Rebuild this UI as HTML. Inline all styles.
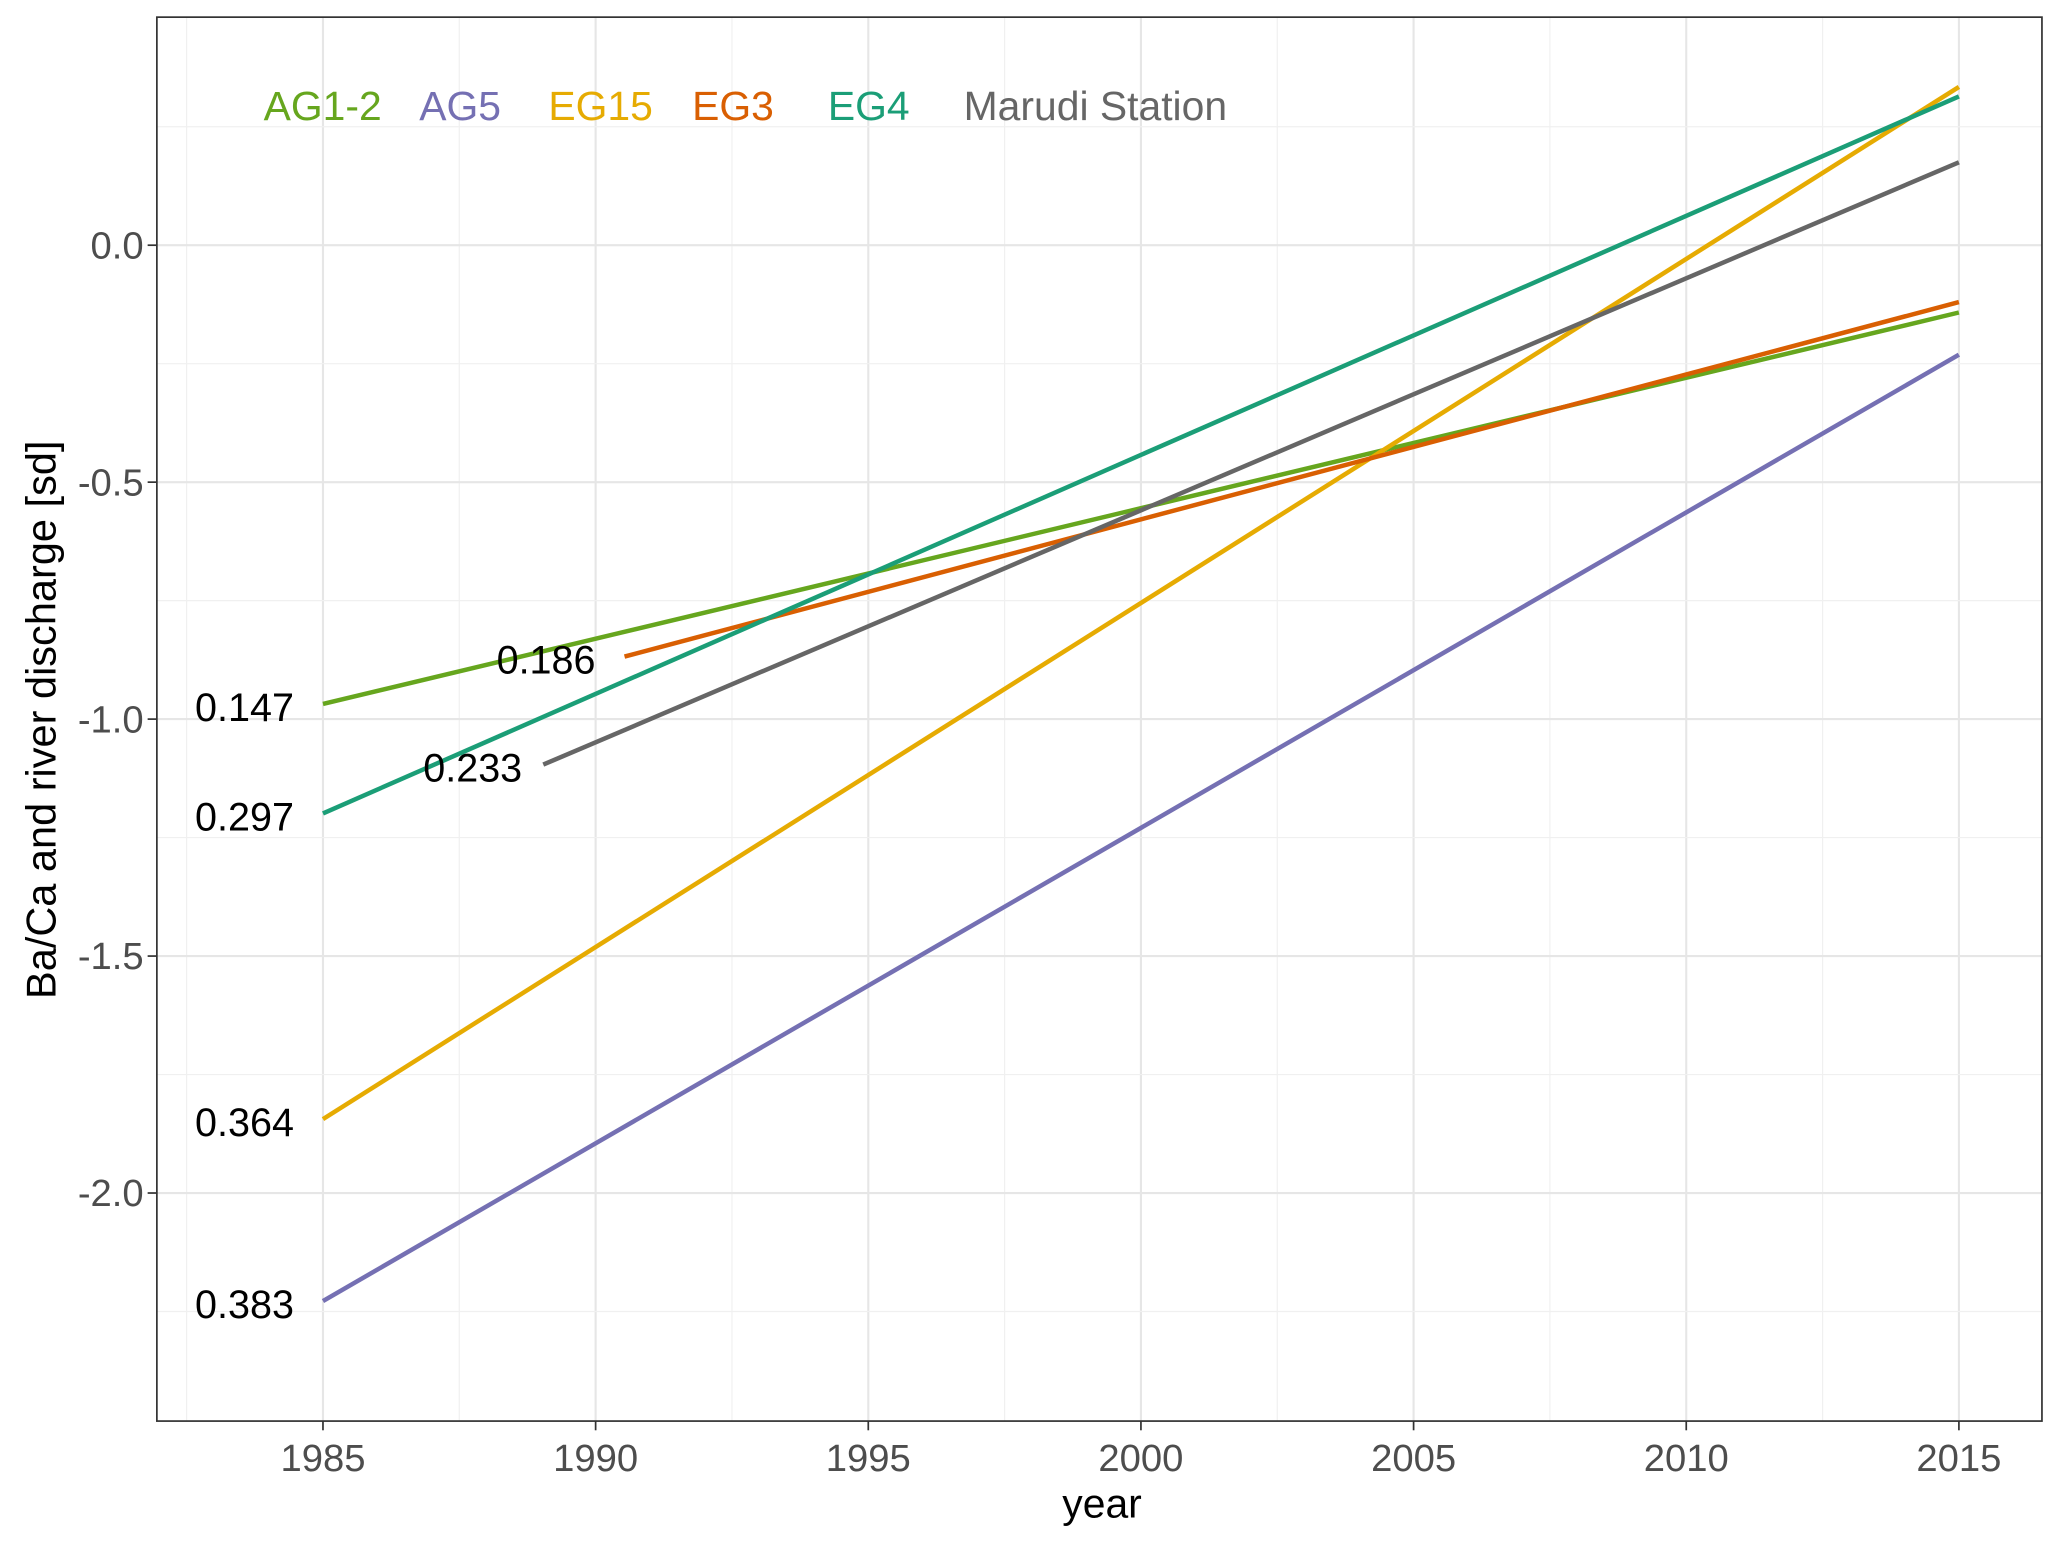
<!DOCTYPE html>
<html><head><meta charset="utf-8"><style>
html,body{margin:0;padding:0;background:#fff;}
svg{display:block;font-family:"Liberation Sans",Arial,sans-serif;}
</style></head><body>
<svg id="chart" width="2067" height="1545" viewBox="0 0 1568 1172" xmlns="http://www.w3.org/2000/svg">
<rect width="1568" height="1172" fill="#fff"/>
<g id="grid"></g>
<g id="series"></g>
<rect x="119" y="13" width="1430" height="1065" fill="none" stroke="#333" stroke-width="1.3"/>
<g id="axes"></g>
<g id="legend"></g>
<text x="836" y="1151" font-size="31" text-anchor="middle" fill="#000">year</text>
<text transform="translate(42,546) rotate(-90)" font-size="31.5" text-anchor="middle" fill="#000">Ba/Ca and river discharge [sd]</text>
</svg>
<script>
const seriesNames = ["AG1-2","AG5","EG15","EG3","EG4","Marudi Station"];
const seriesColors = ["#66a61e","#7570b3","#e6ab02","#d95f02","#1b9e77","#666666"];
const startYears = [1985,1985,1985,1990.53,1985,1989.04];
const endYears = [2015,2015,2015,2015,2015,2015];
const startValues = [-0.968,-2.228,-1.844,-0.868,-1.199,-1.096];
const endValues = [-0.142,-0.231,0.334,-0.12,0.314,0.175];
const labelTexts = ["0.147","0.383","0.364","0.186","0.297","0.233"];
const xTicks = [1985,1990,1995,2000,2005,2010,2015];
const yTicks = [0.0,-0.5,-1.0,-1.5,-2.0];
const yTickLabels = ["0.0","-0.5","-1.0","-1.5","-2.0"];
const legendX = [200,318,416,525,628,731];

const NS="http://www.w3.org/2000/svg";
const X = y => 245 + (y-1985)*(1486-245)/30;
const Y = v => 186 - v*359.5;
function mk(tag, attrs, parent){const e=document.createElementNS(NS,tag);for(const k in attrs)e.setAttribute(k,attrs[k]);parent.appendChild(e);return e;}
const grid=document.getElementById('grid'), ser=document.getElementById('series'), axes=document.getElementById('axes'), leg=document.getElementById('legend');
for(let yr=1982.5; yr<=2017.5; yr+=2.5){
  const x=X(yr); if(x<119||x>1549) continue;
  const major = Math.abs(yr%5)<0.01;
  const l=mk('line',{x1:x,x2:x,y1:13,y2:1078,stroke:major?'#e6e6e6':'#f0f0f0','stroke-width':major?1.6:0.9},grid);
  
  
}
for(let v=0.5; v>=-2.5; v-=0.25){
  const y=Y(v); if(y<13||y>1078) continue;
  const major = Math.abs((v*2)%1)<0.01;
  const l=mk('line',{x1:119,x2:1549,y1:y,y2:y,stroke:major?'#e6e6e6':'#f0f0f0','stroke-width':major?1.6:0.9},grid);
  
  
}
const labelOffset=[22,22,22,22,22,16];
for(let i=0;i<seriesNames.length;i++){
  const l=mk('line',{x1:X(startYears[i]),y1:Y(startValues[i]),x2:X(endYears[i]),y2:Y(endValues[i]),stroke:seriesColors[i],'stroke-width':3.4},ser);
  
  
  const t=mk('text',{x:X(startYears[i])-labelOffset[i],y:Y(startValues[i])+13,'font-size':30,'text-anchor':'end',fill:'#000'},ser);
  t.textContent=labelTexts[i];
  
  
}
xTicks.forEach(yr=>{
  const x=X(yr);
  const tk=mk('line',{x1:x,x2:x,y1:1078,y2:1085,stroke:'#333','stroke-width':1.3},axes);
  
  
  const t=mk('text',{x:x,y:1116,'font-size':29,'text-anchor':'middle',fill:'#4d4d4d'},axes);
  t.textContent=yr;
  
  
});
yTicks.forEach((v,i)=>{
  const y=Y(v);
  const tk=mk('line',{x1:112,x2:119,y1:y,y2:y,stroke:'#333','stroke-width':1.3},axes);
  
  
  const t=mk('text',{x:109,y:y+10,'font-size':29,'text-anchor':'end',fill:'#4d4d4d'},axes);
  t.textContent=yTickLabels[i];
  
  
});
seriesNames.forEach((n,i)=>{
  const t=mk('text',{x:legendX[i],y:91,'font-size':31,fill:seriesColors[i]},leg);
  t.textContent=n;
  
  
});
</script>
</body></html>
